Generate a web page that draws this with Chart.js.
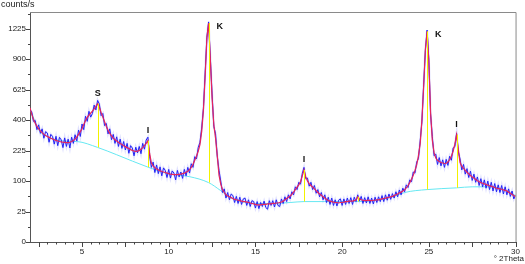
<!DOCTYPE html>
<html>
<head>
<meta charset="utf-8">
<script src="https://cdn.jsdelivr.net/npm/chart.js@4.4.1/dist/chart.umd.min.js"></script>
<style>
html, body { margin: 0; padding: 0; background: #fff; }
#wrap { width: 525px; height: 264px; }
</style>
</head>
<body>
<div id="wrap"><canvas id="xrd" width="525" height="264"></canvas></div>
<script>
// scan: 2 - 30 deg 2Theta, one reading every 0.1 deg
const twoThetaStart = 2.0;
const twoThetaStep = 0.1;

// raw counts (blue)
const measured = [
  470,455,392,398,340,370,318,345,290,328,
  320,268,312,300,258,301,250,295,281,240,
  292,246,285,238,296,262,310,275,338,300,
  375,340,426,392,460,420,445,505,470,540,
  512,430,445,365,378,315,345,282,312,262,
  298,246,285,236,272,228,262,212,250,238,
  200,242,214,246,210,262,232,280,296,198,
  150,172,130,160,126,152,118,148,138,112,
  142,110,136,128,104,138,114,132,109,142,
  118,150,128,165,150,196,186,240,268,350,
  480,770,1130,1305,910,590,360,315,198,138,
  100,66,76,52,66,48,62,58,42,56,
  40,54,38,50,52,36,48,34,46,44,
  31,44,30,42,34,45,32,29,46,36,
  46,33,48,36,34,50,40,55,44,60,
  50,68,60,82,74,96,90,126,150,108,
  110,84,96,74,86,64,74,55,66,48,
  60,42,54,38,52,36,48,35,47,50,
  36,50,38,52,40,53,38,54,44,60,
  46,56,40,53,41,55,40,52,39,54,
  42,55,44,58,44,60,47,62,49,63,
  52,68,55,73,60,78,68,88,80,104,
  98,132,128,172,188,275,390,665,990,1210,
  895,440,300,200,208,162,192,156,182,150,
  184,158,198,180,238,245,318,220,186,140,
  162,124,145,112,135,102,124,96,114,86,
  108,82,104,78,100,74,96,70,92,68,
  88,66,86,62,82,60,76,56,70,50,
  60
];

// smoothed counts (red)
const smoothed = [
  485,440,405,380,360,345,333,322,312,305,
  300,295,290,286,282,278,275,272,270,268,
  267,266,266,268,272,278,285,298,312,328,
  345,372,398,418,434,448,462,478,495,515,
  490,452,420,390,360,336,318,303,291,282,
  275,268,262,256,250,245,240,235,230,226,
  223,221,222,226,232,240,250,262,276,210,
  168,156,149,144,140,137,134,132,130,128,
  126,124,123,122,122,122,123,124,126,128,
  131,135,141,150,163,180,198,222,255,330,
  470,740,1120,1290,900,560,370,290,200,120,
  90,74,66,60,57,55,53,51,49,48,
  47,46,45,44,44,43,42,41,40,39,
  38,37,37,37,38,38,38,39,39,39,
  40,40,41,41,42,43,45,48,51,54,
  57,61,67,74,81,88,98,118,140,115,
  100,92,86,81,76,71,66,62,59,55,
  52,49,46,45,44,43,42,42,41,42,
  42,43,44,44,45,45,45,46,48,55,
  50,48,47,46,46,47,46,46,47,47,
  48,48,49,50,51,52,53,54,55,56,
  58,60,62,65,67,70,74,79,86,95,
  106,120,138,160,200,260,400,650,1000,1195,
  880,450,280,215,190,180,175,170,168,166,
  167,172,182,198,222,258,310,230,170,155,
  146,138,131,125,119,114,110,105,101,98,
  95,93,91,89,87,85,84,82,80,78,
  77,76,75,73,72,70,67,64,61,58,
  55
];

// background (cyan)
const bgAngles = [2.0, 2.5, 3.0, 4.0, 4.7, 5.9, 7.0, 8.8, 10.0, 10.5, 11.2, 12.3, 13.0, 13.5, 14.0, 15.0, 16.0, 17.0, 17.8, 19.0, 20.9, 22.0, 23.0, 23.6, 24.9, 26.6, 27.5, 28.5, 29.2, 30.0];
const bgCounts = [480, 340, 300, 274, 272, 241, 205, 151, 125, 121, 115, 95, 71, 54, 46, 40, 40, 42, 44, 44, 44, 47, 56, 66, 74, 79, 82, 82, 76, 58];

// identified peaks (yellow markers)
const peakAngles = [5.9, 8.8, 12.3, 17.8, 20.9, 24.9, 26.6];
const peakTops   = [515, 276, 1290, 140, 55, 1195, 310];
const peakBases  = [241, 151, 95, 44, 44, 74, 79];
const peakNames  = ['S', 'I', 'K', 'I', '', 'K', 'I'];

const xTicks = [5, 10, 15, 20, 25, 30];
const yTicks = [0, 25, 100, 225, 400, 625, 900, 1225];

const FONT = 'Liberation Sans, Arial, sans-serif';

// the counts axis is a square-root axis
function toPoints(counts) {
  return counts.map((c, i) => ({ x: +(twoThetaStart + i * twoThetaStep).toFixed(2), y: Math.sqrt(c) }));
}

const decorations = {
  id: 'decorations',
  afterDatasetsDraw(chart) {
    const { ctx, scales: { x, y } } = chart;
    ctx.save();
    ctx.strokeStyle = '#f2f200';
    ctx.lineWidth = 1;
    peakAngles.forEach((a, i) => {
      const px = Math.round(x.getPixelForValue(a)) + 0.5;
      ctx.beginPath();
      ctx.moveTo(px, y.getPixelForValue(Math.sqrt(peakBases[i])));
      ctx.lineTo(px, y.getPixelForValue(Math.sqrt(peakTops[i])));
      ctx.stroke();
    });
    ctx.restore();
  },
  afterDraw(chart) {
    const { ctx, chartArea: area, scales: { x, y } } = chart;
    ctx.save();

    // frame top and right
    ctx.strokeStyle = '#8a8a8a';
    ctx.lineWidth = 1;
    ctx.beginPath();
    ctx.moveTo(area.left, area.top + 0.5);
    ctx.lineTo(area.right + 0.5, area.top + 0.5);
    ctx.lineTo(area.right + 0.5, area.bottom);
    ctx.stroke();

    // tick marks
    ctx.strokeStyle = '#444';
    ctx.beginPath();
    for (let v = 0; v <= y.max; v += 2.5) {
      const py = Math.round(y.getPixelForValue(v)) + 0.5;
      const len = v % 5 === 0 ? 4 : 2;
      ctx.moveTo(area.left - len, py);
      ctx.lineTo(area.left, py);
    }
    for (let v = 2.5; v <= x.max; v += 0.5) {
      const px = Math.round(x.getPixelForValue(v)) + 0.5;
      const len = v % 2.5 === 0 ? 5 : 2.5;
      ctx.moveTo(px, area.bottom);
      ctx.lineTo(px, area.bottom + len);
    }
    ctx.stroke();

    // peak names
    ctx.fillStyle = '#111';
    ctx.font = 'bold 9px ' + FONT;
    ctx.textBaseline = 'middle';
    peakAngles.forEach((a, i) => {
      if (!peakNames[i]) return;
      const px = x.getPixelForValue(a);
      const py = y.getPixelForValue(Math.sqrt(peakTops[i]));
      if (py - 12 < area.top + 25) {
        ctx.textAlign = 'left';
        ctx.fillText(peakNames[i], px + 8, py + 3);
      } else {
        ctx.textAlign = 'center';
        ctx.fillText(peakNames[i], px, py - 10);
      }
    });

    // axis titles
    ctx.fillStyle = '#222';
    ctx.font = '9px ' + FONT;
    ctx.textAlign = 'left';
    ctx.fillText('counts/s', 1, 5);
    ctx.font = '8px ' + FONT;
    ctx.textAlign = 'right';
    ctx.fillText('° 2Theta', 524, 259);
    ctx.restore();
  }
};

new Chart(document.getElementById('xrd'), {
  type: 'line',
  data: {
    datasets: [
      {
        label: 'smoothed',
        data: toPoints(smoothed),
        borderColor: '#e6245c',
        borderWidth: 1.2,
        pointRadius: 0,
        order: 1
      },
      {
        label: 'measured',
        data: toPoints(measured),
        borderColor: '#2323f5',
        borderWidth: 1,
        pointRadius: 0,
        order: 2
      },
      {
        label: 'measured halo',
        data: toPoints(measured),
        borderColor: 'rgba(130,135,255,0.25)',
        borderWidth: 2.2,
        pointRadius: 0,
        order: 3
      },
      {
        label: 'background',
        data: bgAngles.map((a, i) => ({ x: a, y: Math.sqrt(bgCounts[i]) })),
        borderColor: '#66e8f2',
        borderWidth: 1,
        pointRadius: 0,
        cubicInterpolationMode: 'monotone',
        order: 4
      }
    ]
  },
  options: {
    responsive: false,
    animation: false,
    devicePixelRatio: 1,
    layout: { padding: { left: 0, right: 9, top: 12, bottom: 0 } },
    plugins: { legend: { display: false }, tooltip: { enabled: false } },
    scales: {
      x: {
        type: 'linear',
        min: 2,
        max: 30,
        afterFit: s => { s.height = 22; },
        afterBuildTicks: s => { s.ticks = xTicks.map(v => ({ value: v })); },
        grid: { display: false, drawTicks: false },
        border: { display: true, color: '#555', width: 1 },
        ticks: { color: '#222', font: { family: FONT, size: 8 }, padding: 5, maxRotation: 0, autoSkip: false }
      },
      y: {
        type: 'linear',
        min: 0,
        max: 37.75,
        afterFit: s => { s.width = 30; },
        afterBuildTicks: s => { s.ticks = yTicks.map(v => ({ value: Math.sqrt(v) })); },
        grid: { display: false, drawTicks: false },
        border: { display: true, color: '#555', width: 1 },
        ticks: {
          color: '#222',
          font: { family: FONT, size: 8 },
          padding: 4,
          autoSkip: false,
          callback: v => Math.round(v * v)
        }
      }
    }
  },
  plugins: [decorations]
});
</script>
</body>
</html>
